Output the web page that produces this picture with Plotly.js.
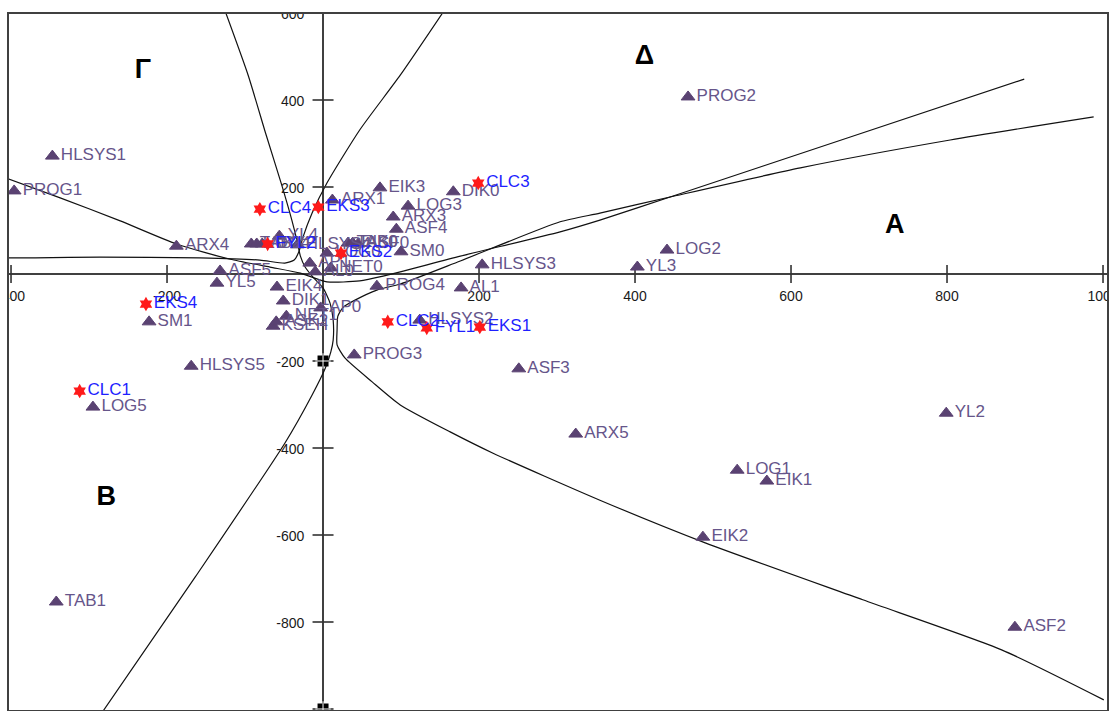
<!DOCTYPE html>
<html><head><meta charset="utf-8">
<script src="https://cdn.plot.ly/plotly-3.0.1.min.js"></script>
<style>html,body{margin:0;padding:0;background:#fff}#chart{width:1117px;height:711px}</style>
</head><body><div id="chart"></div>
<script>
// ---- category points (purple) ----
const purpleNames = ['HLSYS1','PROG1','ARX4','TAB2','LOG4','ARX2','YL4','HLSYS4','ASF5','YL5','EIK4','DIK1','NET1','KSEH','ASK2','AP0','PROG3','HLSYS2','ASF3','ARX5','YL2','LOG1','EIK1','EIK2','ASF2','TAB1','LOG5','HLSYS5','SM1','PROG4','AL1','HLSYS3','YL3','LOG2','PROG2','SM0','ASF4','ARX3','LOG3','EIK3','DIK0','ARX1','TAB0','EIK0','ASF0','AP1','AL0','LOG0','NET0'];
const purpleX = [-347,-396,-188,-92,-85,-78,-56,-33,-132,-136,-59,-51,-47,-64,-60,-3,40,124,251,324,799,531,569,487,887,-342,-295,-169,-223,69,177,204,403,441,468,100,94,90,109,73,167,12,32,38,45,-17,-10,5,10];
const purpleY = [271,191,64,69,69,69,87,67,7,-21,-30,-62,-97,-120,-110,-78,-186,-106,-218,-368,-320,-451,-476,-605,-812,-754,-306,-212,-110,-28,-32,21,16,55,407,51,103,131,156,198,189,170,71,71,69,25,5,48,14];

// ---- supplementary points (red) ----
const redNames = ['CLC4','EKS3','CLC3','EKS2','FYL2','EKS4','CLC1','CLC2','FYL1','EKS1'];
const redX = [-81,-6,199,23,-71,-227,-312,83,133,201];
const redY = [149,154,209,48,69,-69,-269,-110,-124,-122];

// ---- region letters ----
const regionNames = ['Γ','Δ','A','B'];
const regionX = [-231,412,733,-278];
const regionY = [466,499,110,-515];

// ---- axis ticks ----
const xTickVals = [-400,-200,200,400,600,800,1000];
const xTickText = ['-400','-200','200','400','600','800','1000'];
const yTickVals = [600,400,200,-200,-400,-600,-800,-1000];
const yTickText = ['600','400','200','-200','-400','-600','-800','-1000'];
const handleY = [600,-200,-1000];

// ---- boundary curves ----
const gammaCurveX = [-125,-96,-73,-53,-40,-33,-29,-23,-12,0,9,13,13,10,3,-14,-49,-164,-284];
const gammaCurveY = [602,457,320,205,124,74,41,16,-9,-32,-67,-106,-152,-179,-216,-278,-389,-697,-1010];
const deltaCurveX = [154,99,47,5,-14,-26,-31,-37,-49,-81,-158,-286,-369,-410];
const deltaCurveY = [602,457,331,209,140,83,51,32,25,32,37,39,37,37];
const gbCurveX = [-410,-337,-260,-188,-119,-68,-29,5,47,77,176,304,355,445,676,899];
const gbCurveY = [223,175,122,69,34,16,2,-18,-16,-5,41,97,124,177,315,448];
const vCurveX = [988,804,612,445,355,304,176,99,69,41,26,19,18,18,28,63,99,163,218,355,490,692,870,1001];
const vCurveY = [361,308,244,177,140,120,30,-23,-37,-60,-76,-97,-129,-163,-193,-248,-301,-363,-412,-520,-618,-749,-864,-979];

const curveStyle = {color:'#111', width:1.2, shape:'spline', smoothing:0.6};
const curves = [[gammaCurveX,gammaCurveY],[deltaCurveX,deltaCurveY],[gbCurveX,gbCurveY],[vCurveX,vCurveY]];

const traces = [];
curves.forEach(c => traces.push({type:'scatter', mode:'lines', x:c[0], y:c[1], line:curveStyle, hoverinfo:'skip', cliponaxis:true}));

// tick marks
traces.push({type:'scatter', mode:'markers', x:xTickVals, y:xTickVals.map(()=>0),
  marker:{symbol:'line-ns', size:13, line:{color:'#333', width:1.6}}, hoverinfo:'skip'});
traces.push({type:'scatter', mode:'markers', x:yTickVals.map(()=>0), y:yTickVals,
  marker:{symbol:'line-ew', size:15, line:{color:'#333', width:1.6}}, hoverinfo:'skip'});
// tick labels
traces.push({type:'scatter', mode:'text', x:xTickVals, y:xTickVals.map(()=>-55), text:xTickText,
  textposition:'middle center', textfont:{family:'Liberation Sans, Arial', size:14, color:'#1a1a1a'}, cliponaxis:true, hoverinfo:'skip'});
traces.push({type:'scatter', mode:'text', x:yTickVals.map(()=>-24), y:yTickVals.map(v=>v-5), text:yTickText,
  textposition:'middle left', textfont:{family:'Liberation Sans, Arial', size:14, color:'#1a1a1a'}, cliponaxis:true, hoverinfo:'skip'});

// points
traces.push({type:'scatter', mode:'markers+text', x:purpleX, y:purpleY, text:purpleNames,
  textposition:'middle right', marker:{symbol:'triangle-up', size:12, color:'#5a4272', line:{color:'#5a4272', width:1}},
  textfont:{family:'Liberation Sans, Arial', size:17, color:'#66558a'}, cliponaxis:true, hoverinfo:'skip'});
traces.push({type:'scatter', mode:'markers+text', x:redX, y:redY, text:redNames,
  textposition:'middle right', marker:{symbol:'hexagram', size:11, color:'#ff1a1a', line:{width:0}},
  textfont:{family:'Liberation Sans, Arial', size:17, color:'#1f1fff'}, cliponaxis:true, hoverinfo:'skip'});

// region letters
traces.push({type:'scatter', mode:'text', x:regionX, y:regionY, text:regionNames,
  textposition:'middle center', textfont:{family:'Liberation Sans, Arial', size:27, color:'#000', weight:'bold'}, hoverinfo:'skip'});

// axis handles
traces.push({type:'scatter', mode:'markers', x:handleY.map(()=>0), y:handleY,
  marker:{symbol:'square', size:11, color:'#000'}, hoverinfo:'skip', cliponaxis:false});
traces.push({type:'scatter', mode:'markers', x:handleY.map(()=>0), y:handleY,
  marker:{symbol:'cross-thin', size:11, line:{color:'#fff', width:1}}, hoverinfo:'skip', cliponaxis:false});

const axisCommon = {showgrid:false, showticklabels:false, ticks:'', zeroline:true, zerolinecolor:'#404040', zerolinewidth:2,
  showline:true, mirror:true, linecolor:'#404040', linewidth:2, fixedrange:true};

const layout = {
  width:1117, height:711,
  margin:{l:9, r:10, t:14, b:1},
  paper_bgcolor:'#fff', plot_bgcolor:'#fff',
  showlegend:false, hovermode:false,
  xaxis:Object.assign({range:[-402.6,1005.1]}, axisCommon),
  yaxis:Object.assign({range:[-1002.3,597.7]}, axisCommon),
  font:{family:'Liberation Sans, Arial'}
};

Plotly.newPlot('chart', traces, layout, {displayModeBar:false, staticPlot:true});
</script>
</body></html>
